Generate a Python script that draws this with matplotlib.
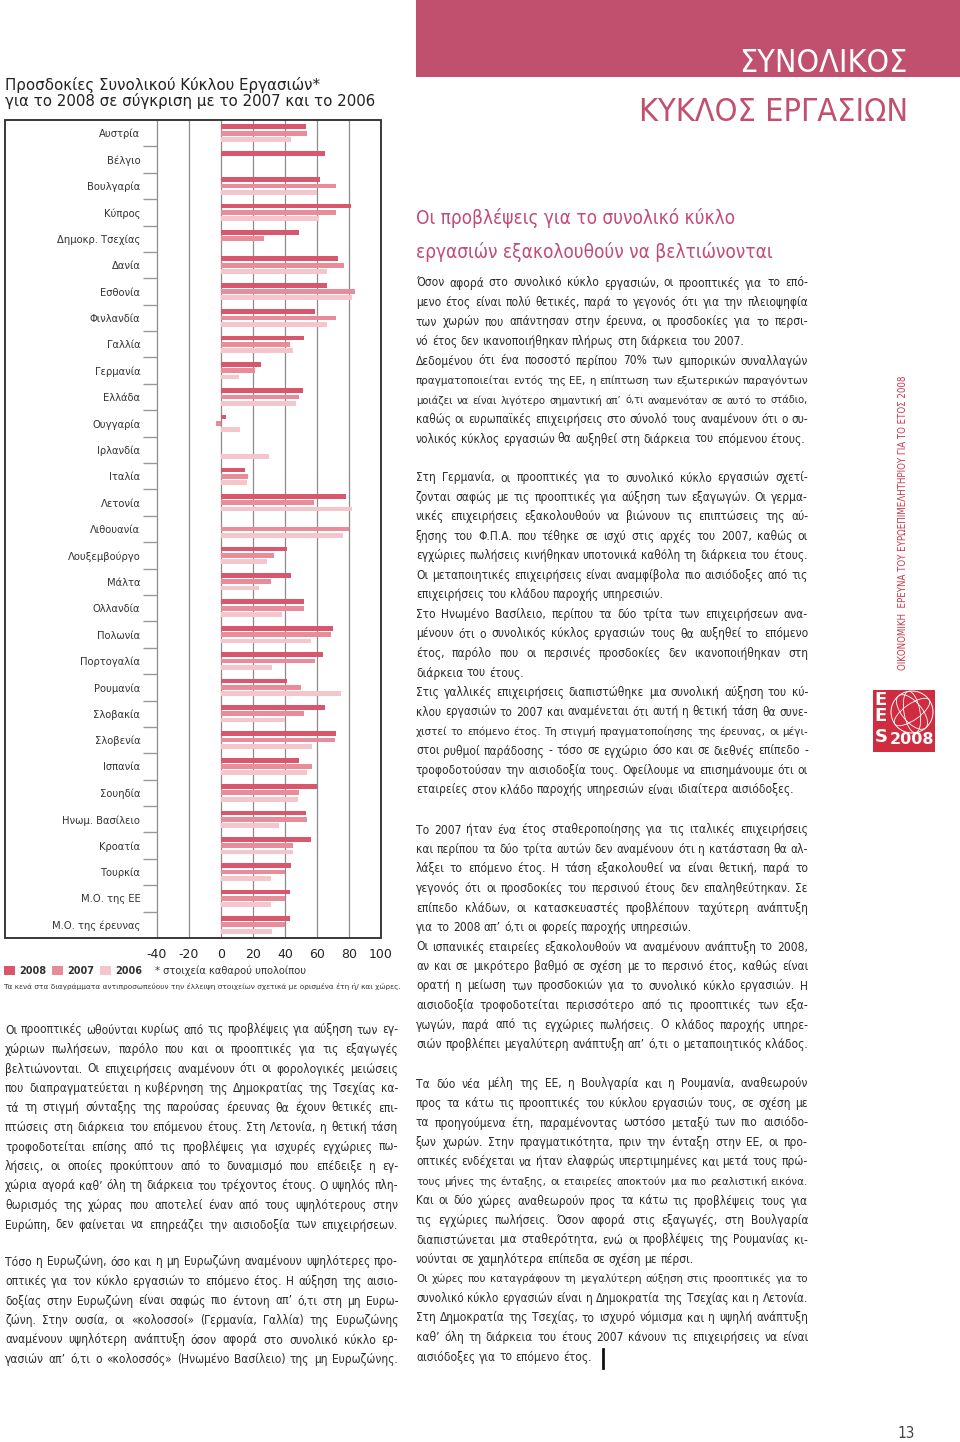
import numpy as np
import matplotlib
matplotlib.use('Agg')
import matplotlib.pyplot as plt
from matplotlib import font_manager as fm
from matplotlib.ft2font import FT2Font
from matplotlib.patches import Rectangle, Circle, Ellipse
from matplotlib.lines import Line2D

W, H = 960, 1442
nan = np.nan

# chart data
countries = ['Αυστρία', 'Βέλγιο', 'Βουλγαρία', 'Κύπρος', 'Δημοκρ. Τσεχίας', 'Δανία',
             'Εσθονία', 'Φινλανδία', 'Γαλλία', 'Γερμανία', 'Ελλάδα', 'Ουγγαρία',
             'Ιρλανδία', 'Ιταλία', 'Λετονία', 'Λιθουανία', 'Λουξεμβούργο', 'Μάλτα',
             'Ολλανδία', 'Πολωνία', 'Πορτογαλία', 'Ρουμανία', 'Σλοβακία', 'Σλοβενία',
             'Ισπανία', 'Σουηδία', 'Ηνωμ. Βασίλειο', 'Κροατία', 'Τουρκία',
             'Μ.Ο. της ΕΕ', 'Μ.Ο. της έρευνας']
v2008 = [53, 65, 62, 81, 49, 73, 66, 59, 52, 25, 51, 3, nan, 15, 78, nan, 41, 44,
         52, 70, 64, 41, 65, 72, 49, 60, 53, 56, 44, 43, 43]
v2007 = [54, nan, 72, 72, 27, 77, 84, 72, 43, 21, 49, -3, nan, 17, 58, 80, 33, 31,
         52, 69, 59, 50, 52, 71, 57, 49, 54, 45, 40, 40, 40]
v2006 = [44, nan, 60, 61, nan, 66, 82, 66, 45, 11, 47, 12, 30, 16, 82, 76, 29, 24,
         38, 56, 32, 75, 40, 57, 54, 48, 36, 45, 31, 31, 32]
years = ['2008', '2007', '2006']
colors = ['#d9576d', '#e98b99', '#f4c6cc']
xticks = [-40, -20, 0, 20, 40, 60, 80, 100]

# page text
chart_title = ['Προσδοκίες Συνολικού Κύκλου Εργασιών*',
               'για το 2008 σε σύγκριση με το 2007 και το 2006']
note_star = '* στοιχεία καθαρού υπολοίπου'
note_gaps = 'Τα κενά στα διαγράμματα αντιπροσωπεύουν την έλλειψη στοιχείων σχετικά με ορισμένα έτη ή/ και χώρες.'
heading = ['Οι προβλέψεις για το συνολικό κύκλο',
           'εργασιών εξακολουθούν να βελτιώνονται']

# lines ending with '|' are not justified
right_1 = [
    'Όσον αφορά στο συνολικό κύκλο εργασιών, οι προοπτικές για το επό-',
    'μενο έτος είναι πολύ θετικές, παρά το γεγονός ότι για την πλειοψηφία',
    'των χωρών που απάντησαν στην έρευνα, οι προσδοκίες για το περσι-',
    'νό έτος δεν ικανοποιήθηκαν πλήρως στη διάρκεια του 2007.|',
    'Δεδομένου ότι ένα ποσοστό περίπου 70% των εμπορικών συναλλαγών',
    'πραγματοποιείται εντός της ΕΕ, η επίπτωση των εξωτερικών παραγόντων',
    'μοιάζει να είναι λιγότερο σημαντική απ’ ό,τι αναμενόταν σε αυτό το στάδιο,',
    'καθώς οι ευρωπαϊκές επιχειρήσεις στο σύνολό τους αναμένουν ότι ο συ-',
    'νολικός κύκλος εργασιών θα αυξηθεί στη διάρκεια του επόμενου έτους.|',
]
right_2 = [
    'Στη Γερμανία, οι προοπτικές για το συνολικό κύκλο εργασιών σχετί-',
    'ζονται σαφώς με τις προοπτικές για αύξηση των εξαγωγών. Οι γερμα-',
    'νικές επιχειρήσεις εξακολουθούν να βιώνουν τις επιπτώσεις της αύ-',
    'ξησης του Φ.Π.Α. που τέθηκε σε ισχύ στις αρχές του 2007, καθώς οι',
    'εγχώριες πωλήσεις κινήθηκαν υποτονικά καθόλη τη διάρκεια του έτους.',
    'Οι μεταποιητικές επιχειρήσεις είναι αναμφίβολα πιο αισιόδοξες από τις',
    'επιχειρήσεις του κλάδου παροχής υπηρεσιών.|',
    'Στο Ηνωμένο Βασίλειο, περίπου τα δύο τρίτα των επιχειρήσεων ανα-',
    'μένουν ότι ο συνολικός κύκλος εργασιών τους θα αυξηθεί το επόμενο',
    'έτος, παρόλο που οι περσινές προσδοκίες δεν ικανοποιήθηκαν στη',
    'διάρκεια του έτους.|',
    'Στις γαλλικές επιχειρήσεις διαπιστώθηκε μια συνολική αύξηση του κύ-',
    'κλου εργασιών το 2007 και αναμένεται ότι αυτή η θετική τάση θα συνε-',
    'χιστεί το επόμενο έτος. Τη στιγμή πραγματοποίησης της έρευνας, οι μέγι-',
    'στοι ρυθμοί παράδοσης - τόσο σε εγχώριο όσο και σε διεθνές επίπεδο -',
    'τροφοδοτούσαν την αισιοδοξία τους. Οφείλουμε να επισημάνουμε ότι οι',
    'εταιρείες στον κλάδο παροχής υπηρεσιών είναι ιδιαίτερα αισιόδοξες.|',
]
right_3 = [
    'Το 2007 ήταν ένα έτος σταθεροποίησης για τις ιταλικές επιχειρήσεις',
    'και περίπου τα δύο τρίτα αυτών δεν αναμένουν ότι η κατάσταση θα αλ-',
    'λάξει το επόμενο έτος. Η τάση εξακολουθεί να είναι θετική, παρά το',
    'γεγονός ότι οι προσδοκίες του περσινού έτους δεν επαληθεύτηκαν. Σε',
    'επίπεδο κλάδων, οι κατασκευαστές προβλέπουν ταχύτερη ανάπτυξη',
    'για το 2008 απ’ ό,τι οι φορείς παροχής υπηρεσιών.|',
    'Οι ισπανικές εταιρείες εξακολουθούν να αναμένουν ανάπτυξη το 2008,',
    'αν και σε μικρότερο βαθμό σε σχέση με το περσινό έτος, καθώς είναι',
    'ορατή η μείωση των προσδοκιών για το συνολικό κύκλο εργασιών. Η',
    'αισιοδοξία τροφοδοτείται περισσότερο από τις προοπτικές των εξα-',
    'γωγών, παρά από τις εγχώριες πωλήσεις. Ο κλάδος παροχής υπηρε-',
    'σιών προβλέπει μεγαλύτερη ανάπτυξη απ’ ό,τι ο μεταποιητικός κλάδος.',
]
right_4 = [
    'Τα δύο νέα μέλη της ΕΕ, η Βουλγαρία και η Ρουμανία, αναθεωρούν',
    'προς τα κάτω τις προοπτικές του κύκλου εργασιών τους, σε σχέση με',
    'τα προηγούμενα έτη, παραμένοντας ωστόσο μεταξύ των πιο αισιόδο-',
    'ξων χωρών. Στην πραγματικότητα, πριν την ένταξη στην ΕΕ, οι προ-',
    'οπτικές ενδέχεται να ήταν ελαφρώς υπερτιμημένες και μετά τους πρώ-',
    'τους μήνες της ένταξης, οι εταιρείες αποκτούν μια πιο ρεαλιστική εικόνα.',
    'Και οι δύο χώρες αναθεωρούν προς τα κάτω τις προβλέψεις τους για',
    'τις εγχώριες πωλήσεις. Όσον αφορά στις εξαγωγές, στη Βουλγαρία',
    'διαπιστώνεται μια σταθερότητα, ενώ οι προβλέψεις της Ρουμανίας κι-',
    'νούνται σε χαμηλότερα επίπεδα σε σχέση με πέρσι.|',
    'Οι χώρες που καταγράφουν τη μεγαλύτερη αύξηση στις προοπτικές για το',
    'συνολικό κύκλο εργασιών είναι η Δημοκρατία της Τσεχίας και η Λετονία.',
    'Στη Δημοκρατία της Τσεχίας, το ισχυρό νόμισμα και η υψηλή ανάπτυξη',
    'καθ’ όλη τη διάρκεια του έτους 2007 κάνουν τις επιχειρήσεις να είναι',
    'αισιόδοξες για το επόμενο έτος.|',
]
left_1 = [
    'Οι προοπτικές ωθούνται κυρίως από τις προβλέψεις για αύξηση των εγ-',
    'χώριων πωλήσεων, παρόλο που και οι προοπτικές για τις εξαγωγές',
    'βελτιώνονται. Οι επιχειρήσεις αναμένουν ότι οι φορολογικές μειώσεις',
    'που διαπραγματεύεται η κυβέρνηση της Δημοκρατίας της Τσεχίας κα-',
    'τά τη στιγμή σύνταξης της παρούσας έρευνας θα έχουν θετικές επι-',
    'πτώσεις στη διάρκεια του επόμενου έτους. Στη Λετονία, η θετική τάση',
    'τροφοδοτείται επίσης από τις προβλέψεις για ισχυρές εγχώριες πω-',
    'λήσεις, οι οποίες προκύπτουν από το δυναμισμό που επέδειξε η εγ-',
    'χώρια αγορά καθ’ όλη τη διάρκεια του τρέχοντος έτους. Ο υψηλός πλη-',
    'θωρισμός της χώρας που αποτελεί έναν από τους υψηλότερους στην',
    'Ευρώπη, δεν φαίνεται να επηρεάζει την αισιοδοξία των επιχειρήσεων.',
]
left_2 = [
    'Τόσο η Ευρωζώνη, όσο και η μη Ευρωζώνη αναμένουν υψηλότερες προ-',
    'οπτικές για τον κύκλο εργασιών το επόμενο έτος. Η αύξηση της αισιο-',
    'δοξίας στην Ευρωζώνη είναι σαφώς πιο έντονη απ’ ό,τι στη μη Ευρω-',
    'ζώνη. Στην ουσία, οι «κολοσσοί» (Γερμανία, Γαλλία) της Ευρωζώνης',
    'αναμένουν υψηλότερη ανάπτυξη όσον αφορά στο συνολικό κύκλο ερ-',
    'γασιών απ’ ό,τι ο «κολοσσός» (Ηνωμένο Βασίλειο) της μη Ευρωζώνης.',
]

pink = '#c1506f'
red = '#d02c40'
txt = '#2b2b2b'


def has_greek(path):
    try:
        cmap = FT2Font(path).get_charmap()
    except Exception:
        return False
    return all(ord(c) in cmap for c in 'ΩΣόώϊλ')


# look for a narrow face with Greek glyphs; fall back to Liberation Sans
narrow = dict(family=['Liberation Sans', 'DejaVu Sans'])
best = 99
prefer = ['Liberation Sans Narrow', 'DejaVu Sans', 'Noto Sans', 'Open Sans']
for f in fm.fontManager.ttflist:
    cond = 'Narrow' in f.name or 'Condensed' in f.name or f.stretch == 'condensed'
    if not cond or 'Mono' in f.name or f.style != 'normal':
        continue
    if f.weight not in (400, 'normal', 'regular', 'book'):
        continue
    if not has_greek(f.fname):
        continue
    rank = next((i for i, p in enumerate(prefer) if f.name.startswith(p)), 50)
    if rank < best:
        best = rank
        if 'Narrow' in f.name or 'Condensed' in f.name:
            narrow = dict(family=[f.name, 'DejaVu Sans'])
        else:
            narrow = dict(family=[f.name, 'DejaVu Sans'], fontstretch='condensed')

fig = plt.figure(figsize=(W / 100, H / 100), dpi=100)
r = fig.canvas.get_renderer()


def fy(y):
    return 1 - y / H


def width_of(s, **kw):
    t = fig.text(0, 0, s, **kw)
    w = t.get_window_extent(r).width
    t.remove()
    return w


def fit(s, target, base=10, **kw):
    return base * target / width_of(s, fontsize=base, **kw)


# ---------------- chart ----------------
ax = fig.add_axes([157 / W, fy(938), 224 / W, 818 / H])
y = np.arange(len(countries))
for k, vals in enumerate([v2008, v2007, v2006]):
    ax.barh(y + (k - 1) * 0.24, vals, height=0.18, color=colors[k], zorder=2)
for t in xticks[1:-1]:
    ax.axvline(t, color='#8c8c8c', lw=0.9, zorder=1)
ax.set_xlim(-40, 100)
ax.set_ylim(len(countries) - 0.5, -0.5)
ax.set_xticks(xticks)
ax.set_xticklabels([str(t) for t in xticks], fontsize=9, color='#222')
ax.set_yticks(y)
ax.set_yticklabels(countries, fontsize=7.2, color='#333')
ax.set_yticks(np.arange(0.5, len(countries) - 1, 1), minor=True)
ax.tick_params(axis='x', length=0, pad=7)
ax.tick_params(axis='y', which='major', length=0, pad=12)
ax.tick_params(axis='y', which='minor', length=10, width=1, color='#999')
for s in ['top', 'right', 'bottom']:
    ax.spines[s].set_visible(False)
ax.spines['left'].set_color('#8c8c8c')
ax.spines['left'].set_linewidth(0.9)
fig.add_artist(Rectangle((5 / W, fy(938)), 376 / W, 818 / H, transform=fig.transFigure,
                         fill=False, ec='#2a2a2a', lw=1.3))

for i, line in enumerate(chart_title):
    fig.text(5 / W, fy(85 + 16 * i), line, fontsize=fit(chart_title[1], 368), color='#222',
             va='center')

lx = [4, 52, 100]
for k, yr in enumerate(years):
    fig.add_artist(Rectangle((lx[k] / W, fy(975)), 11 / W, 9 / H, transform=fig.transFigure,
                             color=colors[k], lw=0))
    fig.text((lx[k] + 15) / W, fy(971), yr, fontsize=7, fontweight='bold', color='#333',
             va='center')
fig.text(155 / W, fy(971), note_star, fontsize=fit(note_star, 151), color='#333', va='center')
fig.text(3 / W, fy(987), note_gaps, fontsize=fit(note_gaps, 394), color='#333', va='center')

# ---------------- header ----------------
fig.add_artist(Rectangle((416 / W, fy(77)), 544 / W, 77 / H, transform=fig.transFigure,
                         color=pink, lw=0))
fig.text(908 / W, fy(72), 'ΣΥΝΟΛΙΚΟΣ', color='white', ha='right', va='baseline',
         fontsize=min(34, fit('ΣΥΝΟΛΙΚΟΣ', 168, **narrow)), **narrow)
fig.text(908 / W, fy(121), 'ΚΥΚΛΟΣ ΕΡΓΑΣΙΩΝ', color=pink, ha='right', va='baseline',
         fontsize=min(34, fit('ΚΥΚΛΟΣ ΕΡΓΑΣΙΩΝ', 268, **narrow)), **narrow)

hsize = min(17, fit(heading[1], 356, **narrow))
fig.text(416 / W, fy(224), heading[0], fontsize=hsize, color='#c24b78', va='baseline', **narrow)
fig.text(416 / W, fy(258), heading[1], fontsize=hsize, color='#c24b78', va='baseline', **narrow)

# ---------------- body text ----------------
blocks = [(right_1, 416, 808, 282), (right_2, 416, 808, 477), (right_3, 416, 808, 829),
          (right_4, 416, 808, 1083), (left_1, 5, 398, 1029), (left_2, 5, 398, 1261)]
ratios = []
for lines, x0, x1, y0 in blocks:
    for line in lines:
        if not line.endswith('|'):
            ratios.append((x1 - x0) / width_of(line, fontsize=10, **narrow))
bsize = min(10, 10 * np.percentile(ratios, 20) * 0.99)

for lines, x0, x1, y0 in blocks:
    for i, line in enumerate(lines):
        ragged = line.endswith('|')
        text = line.rstrip('|')
        size = bsize
        nat = width_of(text, fontsize=size, **narrow)
        if nat > (x1 - x0) * 0.995:
            size = size * (x1 - x0) * 0.99 / nat
        kw = dict(fontsize=size, color=txt, **narrow)
        sp = width_of('n n', **kw) - width_of('nn', **kw)
        words = text.split()
        yb = fy(y0 + i * 19.5 + 4.5)
        arts = [fig.text(0, yb, w, va='baseline', **kw) for w in words]
        ws = [a.get_window_extent(r).width for a in arts]
        gap = sp if ragged or len(words) < 2 else (x1 - x0 - sum(ws)) / (len(words) - 1)
        x = x0
        for a, w in zip(arts, ws):
            a.set_x(x / W)
            x += w + gap

fig.add_artist(Line2D([603 / W, 603 / W], [fy(1349), fy(1368)], transform=fig.transFigure,
                      color='#111', lw=2))

# ---------------- side bar ----------------
side = 'ΟΙΚΟΝΟΜΙΚΗ  ΕΡΕΥΝΑ ΤΟΥ ΕΥΡΩΕΠΙΜΕΛΗΤΗΡΙΟΥ ΓΙΑ ΤΟ ΕΤΟΣ 2008'
fig.text(903 / W, fy(523), side, rotation=90, ha='center', va='center', color='#c9354a',
         fontsize=fit(side, 297, **narrow), **narrow)

lax = fig.add_axes([873 / W, fy(752), 62 / W, 62 / H])
lax.set_xlim(0, 62)
lax.set_ylim(0, 62)
lax.axis('off')
lax.add_patch(Rectangle((0, 0), 62, 62, color=red, lw=0))
lax.add_patch(Circle((39, 40), 21, fill=False, ec='white', lw=0.7))
lax.add_patch(Ellipse((39, 40), 42, 16, angle=35, fill=False, ec='white', lw=0.6))
lax.add_patch(Ellipse((39, 40), 42, 20, angle=-50, fill=False, ec='white', lw=0.6))
lax.add_patch(Ellipse((39, 40), 16, 42, angle=10, fill=False, ec='white', lw=0.6))
for lt, ly in [('E', 52), ('E', 36), ('S', 15)]:
    lax.text(8, ly, lt, color='white', fontsize=13, fontweight='bold', ha='center', va='center')
lax.text(39, 12, '2008', color='white', fontsize=11.5, fontweight='bold', ha='center',
         va='center')

fig.text(906 / W, fy(1433), '13', fontsize=11, color='#444', ha='center', va='center', **narrow)

fig.savefig('out.png', dpi=100)
